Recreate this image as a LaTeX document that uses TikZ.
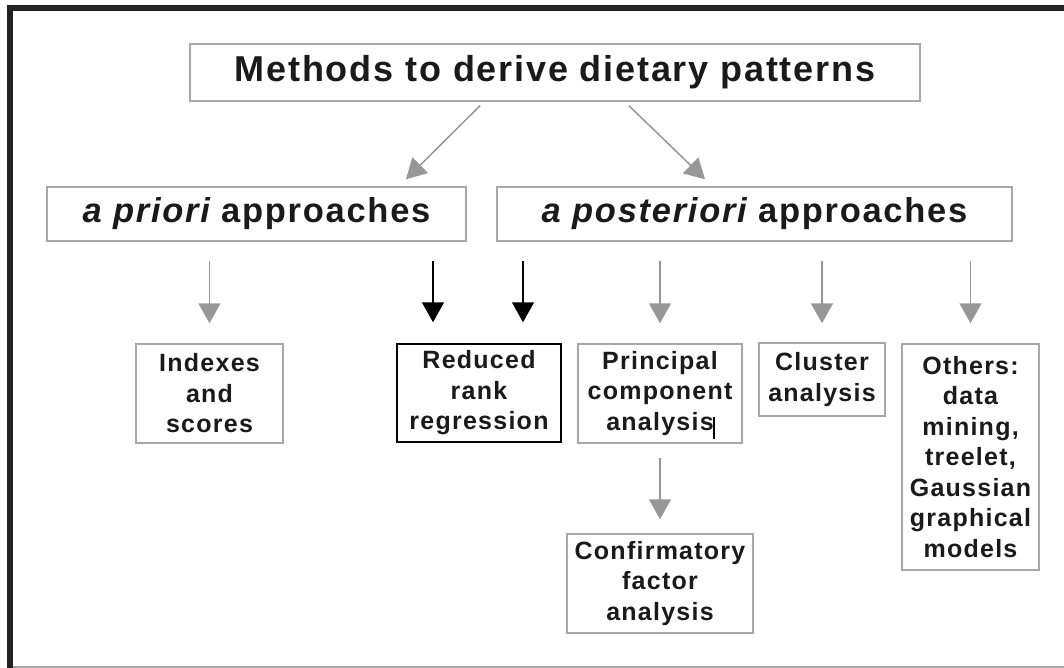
\documentclass[tikz,border=0pt]{standalone}
\usepackage{fontspec}
\setmainfont{Liberation Sans}[LetterSpace=5]
\usetikzlibrary{arrows.meta}
\definecolor{boxgray}{HTML}{A8A8A8}
\definecolor{arrgray}{HTML}{979797}
\definecolor{txt}{HTML}{1A1A1A}
\definecolor{frame}{HTML}{222222}
\begin{document}
\begin{tikzpicture}[x=1pt,y=-1pt,
  box/.style={draw=boxgray, line width=1.5pt, inner sep=0pt, text=txt, align=center,
    font=\bfseries\fontsize{25}{30.5}\selectfont},
  blackbox/.style={box, draw=black},
  bigbox/.style={box, font=\bfseries\fontsize{34.5}{40}\selectfont},
  garrow/.style={draw=arrgray, fill=arrgray, line width=1.5pt, -{Triangle[width=22pt,length=20pt]}},
  barrow/.style={draw=black, fill=black, line width=1.5pt, -{Triangle[width=22pt,length=20pt]}}
]
\useasboundingbox (0,0) rectangle (1064,668);
\fill[white] (0,0) rectangle (1064,668);
% frame
\draw[frame, line width=5.5pt, line join=miter] (10,668) -- (10,8) -- (1064,8);
\draw[boxgray, line width=1.5pt] (12.7,667) -- (1064,667);

% nodes
\node[box, minimum width=730pt, minimum height=57pt, font=\bfseries\fontsize{36}{40}\selectfont] (title) at (555,72.5) {Methods to derive dietary patterns};
\node[bigbox, minimum width=419pt, minimum height=54pt] (apriori) at (256.5,214) {{\itshape a priori} approaches};
\node[bigbox, minimum width=515pt, minimum height=54pt] (apost) at (754.5,214) {{\itshape a posteriori} approaches};

\node[box, minimum width=147pt, minimum height=99pt] (idx) at (209.5,393.5) {Indexes\\and\\scores};
\node[blackbox, minimum width=164pt, minimum height=98pt] (rrr) at (479,393) {Reduced\\rank\\regression};
\node[box, minimum width=164pt, minimum height=99pt] (pca) at (660,393.5) {Principal\\component\\analysis};
\node[box, minimum width=126pt, minimum height=73pt] (clu) at (822,379.5) {Cluster\\analysis};
\node[box, minimum width=137pt, minimum height=226pt] (oth) at (970.5,457) {Others:\\data\\mining,\\treelet,\\Gaussian\\graphical\\models};
\node[box, minimum width=186pt, minimum height=99pt] (cfa) at (660,583.5) {Confirmatory\\factor\\analysis};

% text cursor bar
\draw[black, line width=1.5pt] (714,417) -- (714,439);

% top arrows
\coordinate (t1) at ([xshift=-75pt,yshift=-4pt]title.south);
\coordinate (a1) at ([xshift=149.5pt,yshift=7pt]apriori.north);
\coordinate (t2) at ([xshift=74pt,yshift=-4pt]title.south);
\coordinate (a2) at ([xshift=-49.5pt,yshift=7pt]apost.north);
\draw[garrow] (t1) -- (a1);
\draw[garrow] (t2) -- (a2);

% second level arrows
\coordinate (rL) at ([xshift=-46pt]rrr.north);
\coordinate (rR) at ([xshift=44pt]rrr.north);
\draw[garrow, shorten <=19pt, shorten >=20pt] (apriori.south -| idx.north) -- (idx.north);
\draw[barrow, shorten <=19pt, shorten >=21pt] (apriori.south -| rL) -- (rL);
\draw[barrow, shorten <=19pt, shorten >=21pt] (apost.south -| rR) -- (rR);
\draw[garrow, shorten <=19pt, shorten >=20pt] (apost.south -| pca.north) -- (pca.north);
\draw[garrow, shorten <=19pt, shorten >=19pt] (apost.south -| clu.north) -- (clu.north);
\draw[garrow, shorten <=19pt, shorten >=20pt] (apost.south -| oth.north) -- (oth.north);
\draw[garrow, shorten <=14pt, shorten >=14pt] (pca.south) -- (cfa.north);
\end{tikzpicture}
\end{document}
